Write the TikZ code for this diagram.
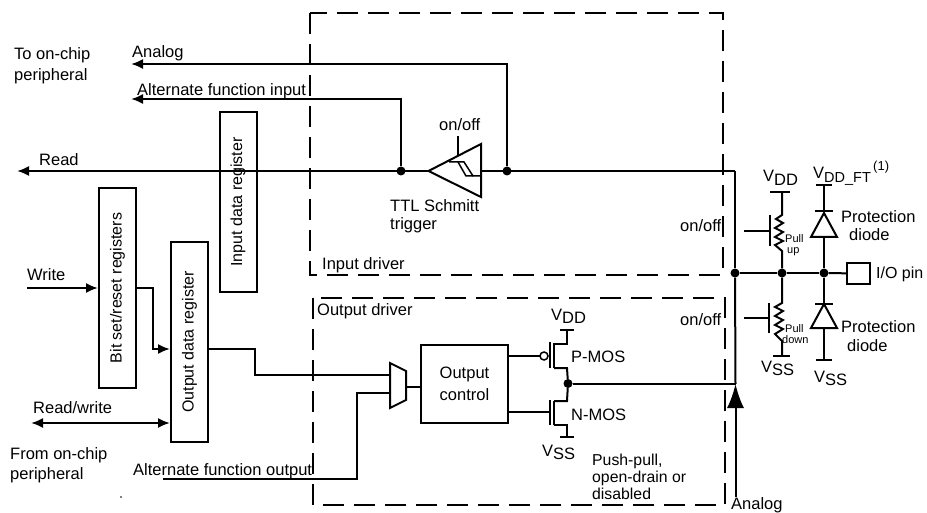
\documentclass[tikz,border=0pt]{standalone}
\usepackage{fontspec}
\setmainfont{Liberation Sans}
\usetikzlibrary{arrows.meta}
\newcommand{\vsub}[1]{V\raisebox{-3.5pt}{#1}}
\tikzset{
  wire/.style={draw=black,line width=2pt,line join=miter},
  thin wire/.style={draw=black,line width=1.5pt},
  arrowed/.style={wire,-{Latex[length=12pt,width=10pt]}},
  dashbox/.style={draw=black,line width=1.6pt,dash pattern=on 21pt off 10pt},
  reg/.style={draw=black,line width=2pt,fill=white,minimum height=37pt,inner sep=0pt,rotate=90,font=\fontsize{16}{18}\selectfont},
  lbl/.style={inner sep=0pt,anchor=base west,font=\fontsize{16.5}{18.5}\selectfont,align=left},
  tiny/.style={inner sep=0pt,anchor=base west,font=\fontsize{11}{12}\selectfont},
  dot/.style={circle,fill=black,draw=none,inner sep=0pt,minimum size=9pt},
  rail/.style={draw=black,line width=2pt}
}
\begin{document}
\begin{tikzpicture}[x=1pt,y=-1pt]
\useasboundingbox (0,0) rectangle (927,513);
\fill[white] (0,0) rectangle (927,513);
% driver frames
\draw[dashbox] (310,13) rectangle (723,275);
\draw[dashbox] (313,298) rectangle (725,505);
% register boxes
\node[reg,minimum width=180pt] (idr) at (238,202) {Input data register};
\node[reg,minimum width=200pt] (bsr) at (117.5,288) {Bit set/reset registers};
\node[reg,minimum width=200pt] (odr) at (189.5,342) {Output data register};
\node[draw=black,line width=2pt,minimum width=87pt,minimum height=78pt,inner sep=0pt,align=center,font=\fontsize{16.5}{22}\selectfont] (ctl) at (464.5,384) {Output\\control};
\node[draw=black,line width=2pt,minimum width=23pt,minimum height=21pt,inner sep=0pt] (pin) at (858.5,273.5) {};
% junctions
\node[dot] (j1) at (401,171) {};
\node[dot] (j2) at (507,171) {};
\node[dot] (j3) at (735,273) {};
\node[dot] (j4) at (782,273) {};
\node[dot] (j5) at (824,273) {};
\node[dot] (j6) at (568,383.5) {};
% free ends
\coordinate (readend) at (17,171);
\coordinate (corner) at (735,171);
\coordinate (anaend) at (131,64);
\coordinate (afiend) at (131,99);
\coordinate (wr) at (27,288);
\coordinate (rw) at (31,423);
\coordinate (afo) at (163,479);
\coordinate (anabot) at (735.5,497);
\coordinate (anatip) at (735.5,384);
% input path
\draw[arrowed] (corner) -- (readend);
\draw[wire] (corner) -- (j3);
\draw[wire] (j3) -- (anatip);
\draw[arrowed] (j2) |- (anaend);
\draw[arrowed] (j1) |- (afiend);
% Schmitt trigger
\fill[white] (428.5,171) -- (481,144) -- (481,197) -- cycle;
\draw[wire] (428.5,171) -- (481,144) -- (481,197) -- cycle;
\draw[thin wire] (458,136) -- (458,155);
\draw[thin wire] (449,162) -- (464,162) -- (473,176) -- (481,176);
\draw[thin wire] (458,162) -- (466,176) -- (473,176);
% write side
\draw[arrowed] (wr) -- (bsr.north |- wr);
\draw[arrowed] (bsr.south |- wr) -- (153,288) -- (153,349) -- (odr.north |- 0,349);
\draw[wire,{Latex[length=12pt,width=10pt]}-{Latex[length=12pt,width=10pt]}] (rw) -- (odr.north |- rw);
% multiplexer
\draw[wire] (390,363) -- (406,371) -- (406,400) -- (390,408) -- cycle;
\coordinate (muxa) at (390,375);
\coordinate (muxb) at (390,393);
\coordinate (muxo) at (406,387);
\draw[wire] (odr.south |- 0,349) -- (255,349) -- (255,375) -- (muxa);
\draw[wire] (afo) -- (357,479) -- (357,393) -- (muxb);
\draw[wire] (muxo) -- (ctl.west |- muxo);
% MOS transistors
\draw[wire] (ctl.east |- 0,356) -- (540,356);
\draw[thin wire] (544,356) circle (4pt);
\draw[wire] (550,342) -- (550,368);
\draw[wire] (554,343) -- (554,368);
\draw[wire] (567,330) -- (567,344) -- (554,344);
\draw[wire] (554,368) -- (567,368) -- (j6);
\draw[rail] (560,330) -- (574,330);
\draw[wire] (ctl.east |- 0,412) -- (550,412);
\draw[wire] (550,400) -- (550,425);
\draw[wire] (554,401) -- (554,425);
\draw[wire] (j6) -- (567,401) -- (554,401);
\draw[wire] (554,425) -- (567,425) -- (567,437);
\draw[rail] (560,437) -- (574,437);
\draw[wire] (j6) -- (j6 -| anatip);
% analog arrow
\draw[wire,-{Latex[length=24pt,width=17pt]}] (anabot) -- (anatip);
% I/O rail
\draw[wire] (j3) -- (j4);
\draw[wire] (j4) -- (j5);
\draw[wire] (j5) -- (pin);
% pull-up
\draw[rail] (770,192) -- (790,192);
\draw[wire] (782,192) -- (782,215) -- (776,219) -- (783,223) -- (775,228) -- (783,232) -- (775,237) -- (783,241) -- (775,245) -- (782,251) -- (j4);
\draw[wire] (770,215) -- (770,246);
\draw[wire] (744,231) -- (770,231);
% pull-down
\draw[wire] (j4) -- (782,303) -- (775,307) -- (783,311) -- (775,316) -- (783,320) -- (775,325) -- (783,329) -- (775,334) -- (782,341) -- (782,356);
\draw[rail] (773,356) -- (790,356);
\draw[wire] (769,303) -- (769,333);
\draw[wire] (744,318) -- (769,318);
% diodes
\draw[rail] (816,185) -- (832,185);
\draw[wire] (824,185) -- (824,211);
\draw[rail] (815,211) -- (833,211);
\draw[wire] (824,213) -- (837,237) -- (811,237) -- cycle;
\draw[wire] (824,237) -- (j5);
\draw[wire] (j5) -- (824,304);
\draw[rail] (815,304) -- (833,304);
\draw[wire] (824,304) -- (837,328) -- (811,328) -- cycle;
\draw[wire] (824,328) -- (824,360);
\draw[rail] (816,360) -- (832,360);
% labels
\node[lbl] (t1) at (14,60) {To on-chip};
\node[lbl] (t1b) at (14,81) {peripheral};
\node[lbl] (t2) at (132,58) {Analog};
\node[lbl] (t3) at (137,96) {Alternate function input};
\node[lbl] (t4) at (39,166) {Read};
\node[lbl] (t5) at (27,280) {Write};
\node[lbl] (t6) at (33,413) {Read/write};
\node[lbl] (t7) at (10,459) {From on-chip};
\node[lbl] (t7b) at (10,479) {peripheral};
\node[lbl] (t8) at (133,475) {Alternate function output};
\node[lbl] (t9) at (439,131) {on/off};
\node[lbl] (t10) at (390,212) {TTL Schmitt};
\node[lbl] (t10b) at (390,230) {trigger};
\node[lbl] (t11) at (322,270) {Input driver};
\node[lbl] (t12) at (317,316) {Output driver};
\node[lbl] (t13) at (680,232) {on/off};
\node[lbl] (t14) at (680,326) {on/off};
\node[lbl,font=\fontsize{15.8}{18}\selectfont] (t15) at (592,465) {Push-pull,};
\node[lbl,font=\fontsize{15.8}{18}\selectfont] (t16) at (592,482) {open-drain or};
\node[lbl,font=\fontsize{15.8}{18}\selectfont] (t17) at (592,499) {disabled};
\node[lbl] (t18) at (731,509) {Analog};
\node[lbl] (t19) at (571,362) {P-MOS};
\node[lbl] (t20) at (571,420) {N-MOS};
\node[lbl] (v1) at (551,320) {\vsub{DD}};
\node[lbl] (v2) at (542,456) {\vsub{SS}};
\node[lbl] (v3) at (763,182) {\vsub{DD}};
\node[lbl] (v4) at (813,179) {V\raisebox{-3.5pt}{\fontsize{14.5}{16}\selectfont DD\_FT}};
\node[lbl,font=\fontsize{13}{15}\selectfont] (v5) at (873,171) {(1)};
\node[lbl] (v6) at (761,372) {\vsub{SS}};
\node[lbl] (v7) at (814,382) {\vsub{SS}};
\node[lbl] (t21) at (841,223) {Protection};
\node[lbl] (t22) at (849,241) {diode};
\node[lbl] (t23) at (841,333) {Protection};
\node[lbl] (t24) at (847,351) {diode};
\node[lbl,font=\fontsize{16}{18}\selectfont] (t25) at (876,279) {I/O pin};
\node[tiny] (t26) at (785,243) {Pull};
\node[tiny] (t27) at (787,254) {up};
\node[tiny] (t28) at (785,332) {Pull};
\node[tiny] (t29) at (782,343) {down};
\fill[black] (121,497) circle (0.8pt);
\end{tikzpicture}
\end{document}
